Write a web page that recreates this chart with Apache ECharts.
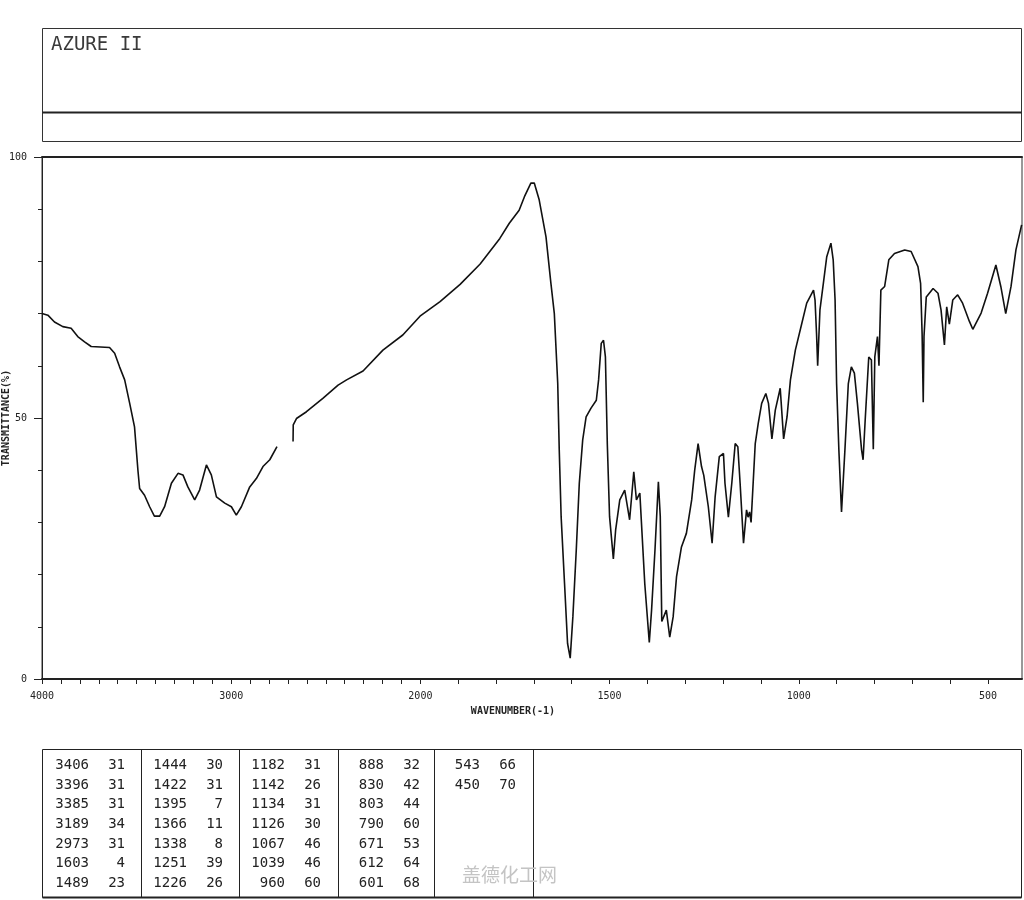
<!DOCTYPE html>
<html>
<head>
<meta charset="utf-8">
<script src="https://cdn.jsdelivr.net/npm/echarts@6/dist/echarts.min.js"></script>
<style>html,body{margin:0;padding:0;background:#fff;}#chart{width:1024px;height:900px;}</style>
</head>
<body>
<div id="chart"></div>
<script>
// ---------- data ----------
const titleText = 'AZURE II';
const xAxisTitle = 'WAVENUMBER(-1)';
const yAxisTitle = 'TRANSMITTANCE(%)';
const xTickLabels = [4000, 3000, 2000, 1500, 1000, 500];
const yTickLabels = [0, 50, 100];
// spectrum (wavenumber cm-1, transmittance %); null marks the gap in the trace
const spectrumWn = [
  4000,3969,3934,3890,3846,3811,3775,3740,3643,3616,3590,3563,3537,3511,3493,3484,3458,3431,3406,3378,
  3352,3316,3281,3255,3229,3193,3167,3131,3105,3078,3034,2999,2973,2946,2902,2867,2832,2796,2758,2720,
  2673,2672,2655,2602,2514,2435,2390,2303,2198,2093,2002,1948,1895,1842,1790,1765,1739,1725,1708,1699,
  1686,1668,1655,1646,1637,1633,1628,1619,1611,1604,1597,1588,1580,1571,1562,1549,1535,1529,1522,1516,
  1511,1506,1500,1490,1484,1473,1460,1447,1436,1429,1420,1407,1395,1389,1380,1371,1366,1362,1350,1341,
  1332,1323,1310,1297,1283,1275,1266,1257,1251,1239,1229,1221,1210,1199,1195,1186,1177,1168,1161,1155,
  1146,1138,1134,1130,1126,1115,1107,1098,1087,1080,1071,1062,1049,1040,1031,1022,1009,992,979,961,
  957,953,950,944,935,926,915,909,904,900,894,887,878,869,861,853,845,834,830,824,
  815,808,803,799,792,788,783,773,762,747,720,703,685,678,674,671,669,663,645,632,
  624,615,609,602,593,580,567,549,540,518,501,479,466,453,439,426,411
];
const spectrumT = [
  70.0,69.7,68.4,67.5,67.2,65.6,64.6,63.7,63.5,62.4,59.8,57.3,52.9,48.3,40.0,36.5,35.2,33.0,31.2,31.2,
  33.0,37.5,39.4,39.1,36.8,34.3,36.2,41.0,39.1,34.9,33.7,33.0,31.4,33.0,36.8,38.4,40.7,42.0,44.5,null,
  45.5,48.7,49.9,51.2,53.8,56.3,57.3,59.0,63.0,65.9,69.5,72.3,75.6,79.5,84.4,87.3,89.8,92.4,95.0,95.0,
  91.8,84.7,75.8,70.0,56.6,43.9,31.1,18.3,6.8,4.0,11.9,24.7,37.5,45.8,50.2,51.9,53.4,57.3,64.3,64.9,
  61.7,45.1,31.1,23.0,28.5,34.3,36.2,30.5,39.7,34.3,35.6,18.3,7.0,13.2,24.7,37.8,31.1,11.0,13.2,8.0,
  11.9,19.6,25.3,27.9,34.3,40.0,45.1,40.7,39.0,33.0,26.0,34.9,42.6,43.2,37.5,31.0,37.5,45.1,44.5,37.5,
  26.0,32.4,31.0,32.0,30.0,45.1,49.0,52.8,54.7,52.8,46.0,51.5,55.7,46.0,50.2,57.3,63.0,68.1,72.0,74.5,
  72.6,66.2,60.0,70.7,75.8,80.9,83.5,80.3,72.6,56.6,43.9,32.0,43.9,56.6,59.8,58.6,52.8,43.9,42.0,50.2,
  61.7,61.1,44.0,61.7,65.6,60.0,74.5,75.2,80.3,81.5,82.2,81.9,79.0,75.8,66.2,53.0,65.6,73.2,74.8,73.9,
  70.7,64.0,71.3,68.0,72.6,73.6,72.0,68.5,67.0,70.1,73.9,79.3,75.2,70.0,75.2,82.2,87.0
];
// peak table (column-major, 7 rows per column)
const peakWn = [3406,3396,3385,3189,2973,1603,1489, 1444,1422,1395,1366,1338,1251,1226,
                1182,1142,1134,1126,1067,1039,960, 888,830,803,790,671,612,601, 543,450];
const peakT  = [31,31,31,34,31,4,23, 30,31,7,11,8,39,26,
                31,26,31,30,46,46,60, 32,42,44,60,53,64,68, 66,70];
const watermark = '盖德化工网';

// ---------- broken wavenumber scale (1000 cm-1 per unit above 2000, 500 below) ----------
const toUnit = wn => wn >= 2000 ? (4000 - wn) / 1000 : 2 + (2000 - wn) / 500;
const toWn = u => u <= 2 ? 4000 - 1000 * u : 2000 - 500 * (u - 2);

const seriesData = spectrumWn.map((w, i) => [toUnit(w), spectrumT[i]]);
const labelUnits = xTickLabels.map(toUnit);
const tickUnits = [];
for (let w = 4000; w >= 500; w -= 100) tickUnits.push(toUnit(w));

// ---------- layout ----------
const L = 42, R = 1022;
const mono = 'DejaVu Sans Mono';
const graphics = [];
// title box
graphics.push({type:'rect', shape:{x:42.5, y:28.5, width:979, height:113}, style:{fill:'none', stroke:'#333', lineWidth:1}});
graphics.push({type:'line', shape:{x1:42.5, y1:112.5, x2:1021.5, y2:112.5}, style:{stroke:'#222', lineWidth:2}});
graphics.push({type:'text', x:51, y:36, style:{text:titleText, font:'19px "DejaVu Sans Mono"', fill:'#3a3a3a', textVerticalAlign:'top'}});
// y axis title (rotated)
graphics.push({type:'text', x:6, y:418, rotation:Math.PI / 2,
  style:{text:yAxisTitle, font:'bold 10px "DejaVu Sans Mono"', fill:'#222', textAlign:'center', textVerticalAlign:'middle'}});
// peak table
graphics.push({type:'rect', shape:{x:42.5, y:749.5, width:979, height:148}, style:{fill:'none', stroke:'#222', lineWidth:1}});
graphics.push({type:'line', shape:{x1:42.5, y1:897.5, x2:1021.5, y2:897.5}, style:{stroke:'#222', lineWidth:2}});
const colLefts = [43, 141, 239, 338, 434];
[141, 239, 338, 434, 533].forEach(x => graphics.push({type:'line', shape:{x1:x+0.5, y1:749.5, x2:x+0.5, y2:897.5}, style:{stroke:'#222', lineWidth:1}}));
peakWn.forEach((w, i) => {
  const c = Math.floor(i / 7), r = i % 7;
  const y = 765.5 + r * 19.65;
  graphics.push({type:'text', x:colLefts[c] + 46, y:y, style:{text:String(w), font:'14px "DejaVu Sans Mono"', fill:'#222', textAlign:'right', textVerticalAlign:'middle'}});
  graphics.push({type:'text', x:colLefts[c] + 82, y:y, style:{text:String(peakT[i]), font:'14px "DejaVu Sans Mono"', fill:'#222', textAlign:'right', textVerticalAlign:'middle'}});
});
graphics.push({type:'text', x:462, y:875, style:{text:watermark, font:'19px "Noto Sans CJK SC"', fill:'#c4c4c4', textVerticalAlign:'middle'}});

const chart = echarts.init(document.getElementById('chart'), null, {renderer:'canvas'});
chart.setOption({
  animation:false,
  backgroundColor:'#fff',
  grid:{left:L, right:1024 - R, top:157, bottom:221, show:true, borderColor:'#333', borderWidth:1, containLabel:false, outerBoundsMode:'none'},
  xAxis:[{
    type:'value', min:0, max:5.18, position:'bottom',
    axisLine:{show:true, lineStyle:{color:'#222', width:2}},
    axisTick:{show:true, customValues:tickUnits, length:5, lineStyle:{color:'#222', width:1}},
    axisLabel:{show:true, customValues:labelUnits, formatter:v => String(Math.round(toWn(v))), fontFamily:mono, fontSize:10, color:'#222', margin:12},
    splitLine:{show:false},
    name:xAxisTitle, nameLocation:'middle', nameGap:27,
    nameTextStyle:{fontFamily:mono, fontSize:10, fontWeight:'bold', color:'#222', padding:[0,38,0,0]}
  },{
    type:'value', min:0, max:5.18, position:'top',
    axisLine:{show:true, lineStyle:{color:'#222', width:2}},
    axisTick:{show:false}, axisLabel:{show:false}, splitLine:{show:false}
  }],
  yAxis:{
    type:'value', min:0, max:100, interval:50,
    axisLine:{show:true, lineStyle:{color:'#222', width:1}},
    axisTick:{show:true, length:8, lineStyle:{color:'#222'}},
    minorTick:{show:true, splitNumber:5, length:4, lineStyle:{color:'#222'}},
    axisLabel:{show:true, customValues:yTickLabels, fontFamily:mono, fontSize:10, color:'#222', margin:15},
    splitLine:{show:false}
  },
  series:[{
    type:'line', data:seriesData, xAxisIndex:0, showSymbol:false, connectNulls:false,
    lineStyle:{color:'#111', width:1.6}
  }],
  graphic:graphics
});
</script>
</body>
</html>
